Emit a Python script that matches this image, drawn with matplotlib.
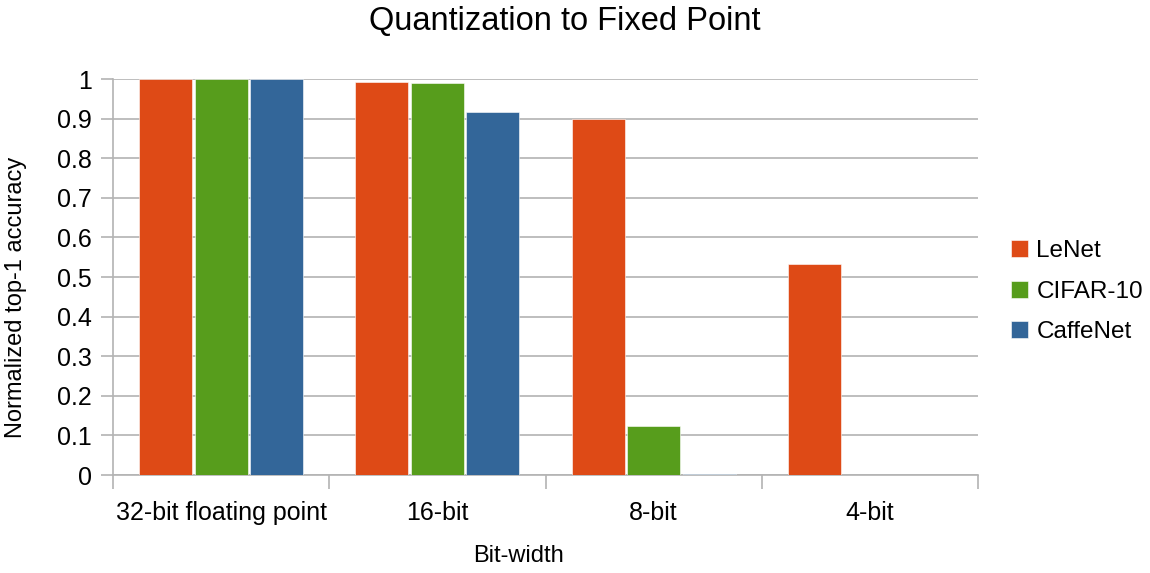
import numpy as np
import matplotlib
matplotlib.use('Agg')
import matplotlib.pyplot as plt

plt.rcParams['font.family'] = ['Liberation Sans', 'DejaVu Sans']

categories = ['32-bit floating point', '16-bit', '8-bit', '4-bit']
lenet = [1.0, 0.992, 0.899, 0.533]
cifar10 = [1.0, 0.990, 0.124, 0.0]
caffenet = [1.0, 0.917, 0.003, 0.0]

series = [('LeNet', lenet, '#de4a16'),
          ('CIFAR-10', cifar10, '#579d1c'),
          ('CaffeNet', caffenet, '#336699')]

fig = plt.figure(figsize=(11.5, 5.73), dpi=100)
ax = fig.add_axes([0.0983, 0.171, 0.7521, 0.691])

x = np.arange(len(categories))
w = 0.245
step = 0.257
for i, (name, vals, col) in enumerate(series):
    ax.bar(x + (i - 1) * step, vals, width=w, color=col, label=name,
           edgecolor='white', linewidth=0.4, zorder=3)

ax.set_xlim(-0.5, len(categories) - 0.5)
ax.set_ylim(0, 1)
ax.set_yticks(np.arange(0, 1.01, 0.1))
ax.set_yticklabels(['0', '0.1', '0.2', '0.3', '0.4', '0.5', '0.6', '0.7', '0.8', '0.9', '1'])
ax.set_xticks(x)
ax.set_xticklabels(categories)
ax.set_xticks(np.arange(-0.5, len(categories), 1), minor=True)
ax.tick_params(axis='x', which='major', length=0, pad=19, labelsize=18)
ax.tick_params(axis='x', which='minor', length=10, color='#b3b3b3', width=1.2)
ax.tick_params(axis='y', length=9, color='#b3b3b3', width=1.2, labelsize=18, pad=6)
ax.grid(axis='y', color='#b3b3b3', linewidth=1.2, zorder=0)
for s in ['top', 'right']:
    ax.spines[s].set_visible(False)
ax.spines['left'].set_color('#b3b3b3')
ax.spines['left'].set_linewidth(1.2)
ax.spines['bottom'].set_color('#b3b3b3')
ax.spines['bottom'].set_linewidth(1.2)

ax.set_xlabel('Bit-width', fontsize=17, va='center')
ax.xaxis.set_label_coords(0.469, -0.2045)
ax.set_ylabel('Normalized top-1 accuracy', fontsize=17, va='center')
ax.yaxis.set_label_coords(-0.112, 0.449)
fig.text(0.491, 0.962, 'Quantization to Fixed Point', fontsize=23.5,
         ha='center', va='center')

fig.legend(loc='center left', bbox_to_anchor=(0.86, 0.491), frameon=False,
           fontsize=17.5, handlelength=0.7, handleheight=0.7, handletextpad=0.35,
           labelspacing=0.75)

fig.savefig('out.png', dpi=100)
